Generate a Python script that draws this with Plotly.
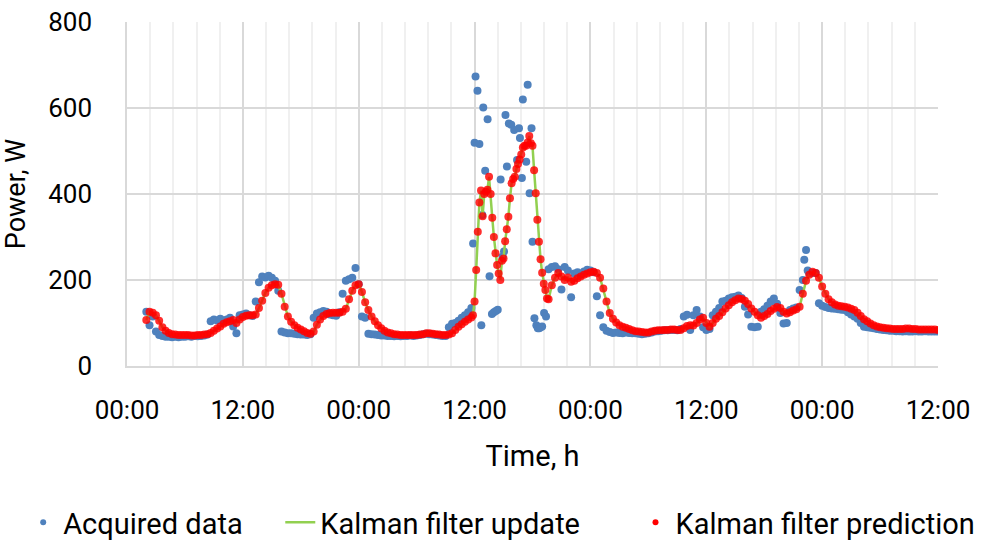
import numpy as np
import pandas as pd
import plotly.graph_objects as go

# ---------------- data (hours since first midnight, power in W) ----------------
# Segment 1: 20-minute samples from 02:00 (day 1) to 35:40
seg1_start, seg1_step = 2.0, 1 / 3
filt_seg1 = [
    107, 126, 124, 118, 105, 90, 82, 77, 74, 73, 72, 72,
    72, 72, 71, 71, 72, 72, 73, 74, 77, 82, 87, 92,
    98, 102, 104, 107, 100, 108, 114, 117, 118, 118, 120, 135,
    152, 170, 182, 188, 190, 189, 168, 138, 115, 103, 95, 89,
    85, 81, 77, 75, 80, 96, 108, 116, 121, 123, 124, 124,
    124, 126, 133, 155, 175, 188, 190, 172, 148, 130, 115, 104,
    95, 88, 82, 78, 76, 74, 73, 72, 72, 72, 72, 72,
    72, 73, 74, 76, 76, 75, 74, 73, 72, 72, 73, 76,
    84, 91, 97, 103, 108, 113,
]
acq_seg1 = [
    126, 95, 115, 80, 72, 70, 68, 68, 67, 68, 67, 68,
    68, 69, 68, 70, 69, 70, 71, 73, 104, 108, 106, 110,
    106, 108, 112, 92, 76, 118, 120, 122, 118, 116, 150, 195,
    208, 206, 210, 205, 198, 175, 80, 78, 76, 76, 75, 74,
    73, 73, 72, 74, 112, 122, 125, 128, 126, 120, 118, 117,
    125, 168, 198, 202, 205, 228, 190, 115, 112, 75, 74, 73,
    72, 71, 71, 70, 70, 69, 70, 69, 70, 70, 71, 70,
    71, 72, 74, 75, 74, 73, 72, 71, 70, 70, 90, 98,
    100, 105, 112, 118, 125, 135,
]

# Segment 2 (load spike): 10-minute filter samples from 35:50 to 43:30
seg2_start, seg2_step = 35 + 5 / 6, 1 / 6
filt_seg2 = [
    118, 150, 223, 312, 380, 408, 348, 400, 405, 410, 440, 400,
    345, 300, 262, 235, 215, 200, 245, 250, 290, 318, 347, 390,
    425, 435, 440, 458, 470, 480, 492, 508, 512, 512, 520, 535,
    518, 512, 455, 402, 340, 289, 248, 217, 191, 177, 157,
]
acq_spike_hours = [
    35.85, 36.0, 36.1, 36.3, 36.5, 36.7, 36.8, 36.9, 37.1, 37.35,
    37.55, 37.8, 38.0, 38.2, 38.4, 38.7, 38.9, 39.05, 39.2, 39.35,
    39.55, 39.8, 40.1, 40.4, 40.6, 40.7, 40.9, 41.0, 41.35, 41.5,
    41.7, 41.9, 42.0, 42.2, 42.4, 42.55, 42.7, 42.85, 43.0, 43.2, 43.4,
    70.15, 70.5,
]
acq_spike_w = [
    285, 519, 673, 640, 516, 95, 351, 601, 454, 574,
    209, 121, 125, 128, 131, 434, 254, 266, 584, 464,
    564, 561, 549, 479, 553, 530, 437, 620, 475, 654,
    402, 553, 289, 111, 95, 88, 88, 90, 92, 123, 115,
    247, 222,
]

# Segment 3: 20-minute samples from 43:40 to 84:00
seg3_start, seg3_step = 43 + 2 / 3, 1 / 3
filt_seg3 = [
    155, 188, 205, 216, 208, 200, 206, 196, 198, 204, 208, 212,
    215, 218, 219, 216, 205, 180, 150, 123, 110, 101, 95, 91,
    89, 86, 83, 81, 80, 79, 78, 78, 80, 82, 83, 83,
    84, 84, 85, 85, 84, 84, 88, 93, 95, 94, 100, 108,
    112, 100, 91, 100, 110, 116, 125, 134, 141, 148, 153, 157,
    156, 152, 144, 134, 126, 118, 112, 116, 121, 128, 133, 137,
    135, 126, 122, 125, 129, 132, 138, 168, 198, 212, 219, 216,
    205, 185, 168, 155, 148, 143, 140, 139, 138, 136, 133, 130,
    124, 116, 109, 104, 99, 95, 92, 90, 89, 88, 87, 86,
    86, 86, 86, 87, 87, 86, 86, 85, 85, 85, 85, 85,
    85, 84,
]
acq_seg3 = [
    225, 230, 232, 225, 178, 230, 222, 160, 215, 218, 212, 220,
    224, 222, 218, 162, 118, 90, 82, 79, 77, 78, 77, 76,
    78, 77, 76, 76, 75, 74, 75, 76, 78, 80, 81, 82,
    83, 83, 84, 84, 83, 86, 115, 119, 84, 118, 130, 115,
    90, 84, 86, 118, 126, 135, 150, 152, 157, 160, 161, 164,
    158, 138, 120, 91, 90, 91, 126, 132, 140, 150, 157, 145,
    123, 99, 100, 130, 134, 136, 177, 200, 270, 216, 216, 216,
    146, 140, 137, 135, 134, 133, 132, 131, 130, 125, 120, 115,
    110, 100, 91, 90, 89, 88, 86, 85, 84, 83, 82, 82,
    81, 81, 80, 81, 80, 80, 81, 80, 80, 81, 80, 80,
    80, 80,
]

x_tick_format = "%H:%M"
y_ticks = [0, 200, 400, 600, 800]
legend_names = ["Acquired data", "Kalman filter update", "Kalman filter prediction"]

# ---------------- build time axes ----------------
base = pd.Timestamp("2020-01-06 00:00")


def to_time(hours):
    return base + pd.to_timedelta(np.asarray(hours, dtype=float), unit="h")


h1 = seg1_start + seg1_step * np.arange(len(filt_seg1))
h2 = seg2_start + seg2_step * np.arange(len(filt_seg2))
h3 = seg3_start + seg3_step * np.arange(len(filt_seg3))

filt_hours = np.concatenate([h1, h2, h3])
filt_w = np.array(filt_seg1 + filt_seg2 + filt_seg3, dtype=float)
acq_hours = np.concatenate([h1, h3, np.array(acq_spike_hours)])
acq_w = np.array(acq_seg1 + acq_seg3 + acq_spike_w, dtype=float)

BLUE = "#4F81BD"
GREEN = "#92D050"
RED = "rgba(255,0,0,0.82)"
FONT = "Roboto"
TICK_SIZE = 26
TEXT_SIZE = 29

fig = go.Figure()
fig.add_trace(go.Scatter(x=to_time(acq_hours), y=acq_w, mode="markers",
                         marker=dict(color=BLUE, size=8), showlegend=False))
fig.add_trace(go.Scatter(x=to_time(filt_hours), y=filt_w, mode="lines",
                         line=dict(color=GREEN, width=2.5), showlegend=False))
fig.add_trace(go.Scatter(x=to_time(filt_hours), y=filt_w, mode="markers",
                         marker=dict(color=RED, size=8), showlegend=False))

# legend entries (separate legends to reproduce spacing)
fig.add_trace(go.Scatter(x=[None], y=[None], mode="markers", name=legend_names[0],
                         marker=dict(color=BLUE, size=6), legend="legend"))
fig.add_trace(go.Scatter(x=[None], y=[None], mode="lines", name=legend_names[1],
                         line=dict(color=GREEN, width=2.5), legend="legend2"))
fig.add_trace(go.Scatter(x=[None], y=[None], mode="markers", name=legend_names[2],
                         marker=dict(color="#FF0000", size=6), legend="legend3"))

leg_common = dict(orientation="h", yanchor="middle", y=-0.455, xanchor="left",
                  font=dict(family=FONT, size=TEXT_SIZE, color="#000000"),
                  bgcolor="rgba(0,0,0,0)", borderwidth=0)

x_start = base
x_end = base + pd.Timedelta(hours=84)

fig.update_layout(
    width=983, height=540,
    margin=dict(l=127, r=45, t=22, b=174, autoexpand=False),
    paper_bgcolor="white", plot_bgcolor="white",
    font=dict(family=FONT, size=TICK_SIZE, color="#000000"),
    legend=dict(**leg_common, x=-0.128),
    legend2=dict(**leg_common, x=0.189),
    legend3=dict(**leg_common, x=0.627),
    xaxis=dict(
        range=[x_start, x_end], type="date", automargin=False,
        tick0=x_start, dtick=12 * 3600 * 1000, tickformat=x_tick_format,
        showgrid=True, gridcolor="#D9D9D9", gridwidth=1.5,
        minor=dict(dtick=2.4 * 3600 * 1000, tick0=x_start, showgrid=True,
                   gridcolor="#F0F0F0", gridwidth=1.5),
        showline=True, linecolor="#D9D9D9", linewidth=1.5,
        zeroline=False, ticks="", ticklabelstandoff=20,
        tickfont=dict(family=FONT, size=TICK_SIZE, color="#000000"),
        title=dict(text="Time, h", standoff=22,
                   font=dict(family=FONT, size=TEXT_SIZE, color="#000000")),
    ),
    yaxis=dict(
        range=[0, 800], tickvals=y_ticks, automargin=False,
        showgrid=True, gridcolor="#D9D9D9", gridwidth=1.5,
        showline=True, linecolor="#D9D9D9", linewidth=1.5,
        zeroline=False, ticks="", ticklabelstandoff=28,
        tickfont=dict(family=FONT, size=TICK_SIZE, color="#000000"),
        title=dict(text="Power, W", standoff=16,
                   font=dict(family=FONT, size=27, color="#000000")),
    ),
)

fig.write_html("out.html", config={"displayModeBar": False},
               post_script="document.body.style.margin='0';document.body.style.overflow='hidden';")
